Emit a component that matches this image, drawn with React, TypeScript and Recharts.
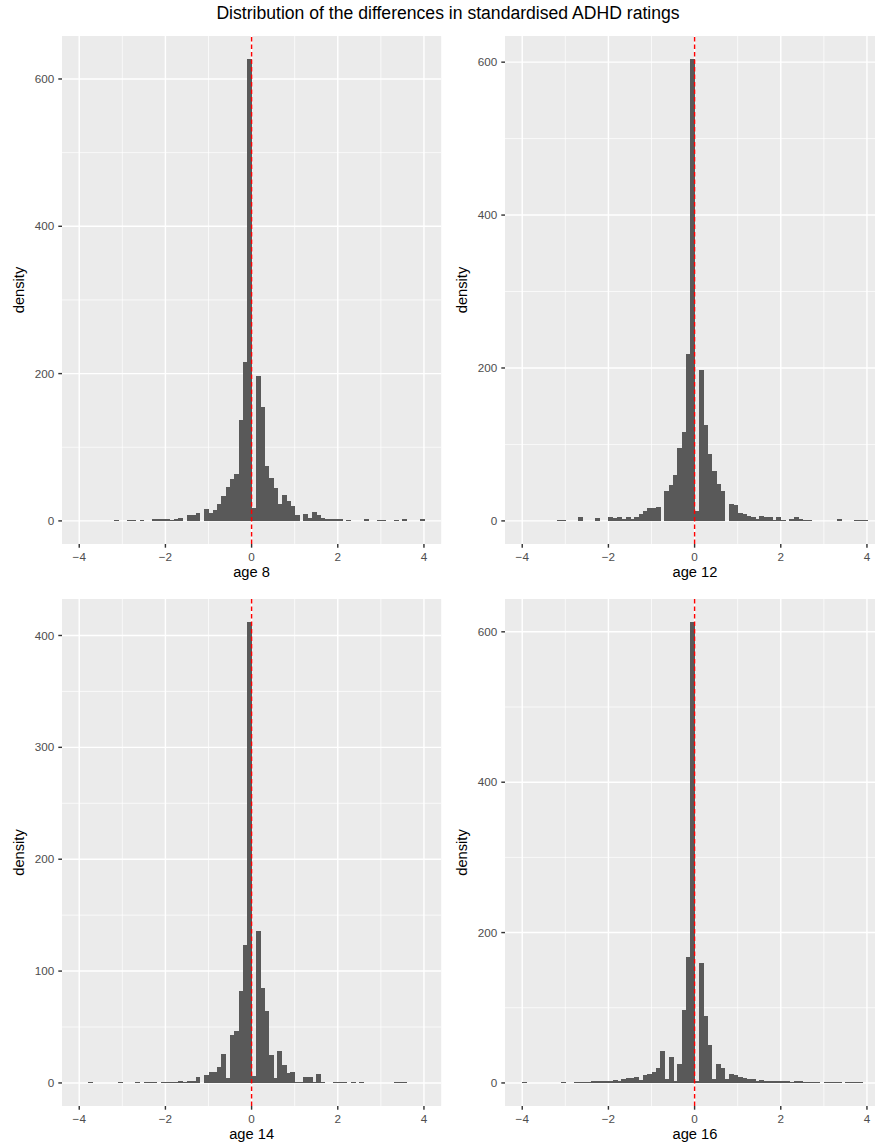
import React from "react";
import { BarChart, Bar, XAxis, YAxis, CartesianGrid, ReferenceLine } from "recharts";

// histogram bins: width 0.1 starting at -4.0 (80 bins, -4.0 .. 4.0)
const binStart = -4;
const binWidth = 0.1;

const age8 = [
  0, 0, 0, 0, 0, 0, 0, 0, 1, 0,
  0, 1.5, 1.5, 0, 1, 0, 0, 2.5, 2.5, 2.5,
  2.5, 1.4, 2.7, 4, 0, 8, 8, 11, 0, 16,
  11, 15, 23, 34, 46, 57, 63.5, 136.5, 216, 627,
  17, 197, 155, 74, 58.5, 44.6, 23, 35.6, 26.6, 20,
  8.6, 0, 10, 4, 12, 8.6, 4, 2.7, 2.7, 2.7,
  3, 0, 1.4, 0, 0, 0, 2, 0, 0, 1,
  1, 0, 0, 1, 0, 2, 0, 0, 0, 2,
];

const age12 = [
  0, 0, 0, 0, 0, 0, 0, 0, 1, 1,
  0, 0, 0, 5, 0, 0, 0, 3.5, 0, 0,
  4.8, 3.9, 5.2, 3, 4.8, 2.5, 5, 8.7, 13, 16.6,
  16.6, 18, 0.5, 38.8, 46.6, 60, 96, 116, 218, 604,
  13, 198, 125, 87, 65, 48.8, 38.8, 0, 21.8, 20.5,
  10, 8.5, 6.5, 5, 2, 6, 4.6, 5, 1.5, 5,
  1.2, 0, 3, 5, 2, 1, 0.8, 0, 0, 0,
  0, 0, 0, 3, 0, 0, 0, 1, 1, 1,
];

const age14 = [
  0, 0, 1, 0, 0, 0, 0, 0, 0, 1,
  0, 0, 0, 1.2, 0, 1, 0.6, 0.6, 0, 1,
  1.2, 1, 1, 1.5, 1, 1.5, 1.5, 5, 0, 6.8,
  9.5, 9.5, 14, 25.5, 4.3, 42.6, 46, 82, 123, 412,
  6, 136, 84.5, 64, 24.7, 4.3, 29, 15.8, 9, 10,
  1.2, 0.6, 5, 5.7, 0.6, 7.7, 1, 0, 0, 1,
  1, 1, 0, 1, 0, 1, 0, 0, 0, 0,
  0, 0, 0, 1, 1, 1, 0, 0, 0, 0,
];

const age16 = [
  1, 0, 0, 0, 0, 0, 0, 0, 0, 1,
  0, 0, 1, 1, 1, 1.5, 2, 2, 2, 3,
  3, 4, 3, 5, 6, 6, 8, 4, 10, 12,
  15, 20, 43, 5, 35, 3, 25, 97, 167, 613,
  3, 160, 89, 50, 5, 25, 20, 5, 12, 10,
  8, 6, 5, 5, 3, 4, 3, 2, 2, 3,
  2, 2, 1, 2, 2, 1, 1, 1, 1, 0,
  1, 1, 1, 1, 0, 1, 1, 1, 1, 0,
];

const xTicks = [-4, -2, 0, 2, 4];
const xMinor = [-3, -1, 1, 3];
const yTicks600 = [0, 200, 400, 600];
const yMinor600 = [100, 300, 500];
const yTicks400 = [0, 100, 200, 300, 400];
const yMinor400 = [50, 150, 250, 350];

const FONT = '"Liberation Sans", Arial, Helvetica, sans-serif';
const PANEL_W = 379.2;
const AXIS_W = 62;
const TOP = 36;
const X_DOMAIN: [number, number] = [-4.4, 4.4];
const BAR_PX = (PANEL_W * binWidth) / (X_DOMAIN[1] - X_DOMAIN[0]) - 0.01;

const panels = [
  { label: "age 8", values: age8, yTicks: yTicks600, yMinor: yMinor600, left: 0, top: 0, h: 508 },
  { label: "age 12", values: age12, yTicks: yTicks600, yMinor: yMinor600, left: 443.4, top: 0, h: 508 },
  { label: "age 14", values: age14, yTicks: yTicks400, yMinor: yMinor400, left: 0, top: 563, h: 507 },
  { label: "age 16", values: age16, yTicks: yTicks600, yMinor: yMinor600, left: 443.4, top: 563, h: 507 },
];

const fmt = (v: number) => (v < 0 ? `\u2212${Math.abs(v)}` : `${v}`);
const tickStyle = { fill: "#4D4D4D", fontSize: 11.7, fontFamily: FONT };
const tickLine = { stroke: "#333333", strokeWidth: 1.42 };

// plain rect, widened a hair so neighbouring bins don't show antialias seams
const HistBar = (props: any) => {
  const { x, y, width, height } = props;
  if (!height || height <= 0) return null;
  return (
    <rect
      x={x}
      y={y}
      width={width + 0.6}
      height={height}
      fill="#595959"
      shapeRendering="crispEdges"
    />
  );
};

function Panel({ p }: { p: (typeof panels)[number] }) {
  const data = p.values.map((d, i) => ({ x: binStart + binWidth * (i + 0.5), d }));
  const peak = Math.max(...p.values);
  return (
    <div style={{ position: "absolute", left: p.left, top: p.top }}>
      <BarChart
        width={AXIS_W + PANEL_W + 6}
        height={TOP + p.h + 50}
        data={data}
        margin={{ top: TOP, right: 6, bottom: 0, left: 0 }}
        barCategoryGap={0}
        barGap={0}
      >
        <CartesianGrid
          fill="#EBEBEB"
          stroke="#FFFFFF"
          strokeWidth={0.71}
          horizontalValues={p.yMinor}
          verticalValues={xMinor}
        />
        <CartesianGrid
          stroke="#FFFFFF"
          strokeWidth={1.42}
          horizontalValues={p.yTicks}
          verticalValues={xTicks}
        />
        <XAxis
          type="number"
          dataKey="x"
          domain={X_DOMAIN}
          ticks={xTicks}
          interval={0}
          allowDataOverflow
          axisLine={false}
          tickLine={tickLine}
          tickSize={3.7}
          tickMargin={5.3}
          tick={tickStyle}
          tickFormatter={fmt}
          height={50}
        />
        <YAxis
          type="number"
          domain={[-0.05 * peak, 1.05 * peak]}
          ticks={p.yTicks}
          interval={0}
          allowDataOverflow
          axisLine={false}
          tickLine={tickLine}
          tickSize={3.7}
          tickMargin={4}
          tick={tickStyle}
          width={AXIS_W}
        />
        <Bar
          dataKey="d"
          fill="#595959"
          barSize={BAR_PX}
          shape={HistBar}
          isAnimationActive={false}
        />
        <ReferenceLine x={0} stroke="#FF0000" strokeWidth={1.42} strokeDasharray="4.5 3" />
      </BarChart>
    </div>
  );
}

export default function App() {
  return (
    <div
      style={{
        position: "fixed",
        left: 0,
        top: 0,
        width: 875,
        height: 1148,
        overflow: "hidden",
        background: "#FFFFFF",
        fontFamily: FONT,
      }}
    >
      {panels.map((p) => (
        <Panel key={p.label} p={p} />
      ))}
      <svg
        width={875}
        height={1148}
        style={{ position: "absolute", left: 0, top: 0, pointerEvents: "none" }}
        fontFamily={FONT}
      >
        <text x={448} y={19} textAnchor="middle" fontSize={17.6} fill="#000000">
          Distribution of the differences in standardised ADHD ratings
        </text>
        {panels.map((p) => (
          <g key={p.label}>
            <text
              transform={`translate(${p.left + 24}, ${p.top + TOP + p.h / 2}) rotate(-90)`}
              textAnchor="middle"
              fontSize={14.7}
              fill="#000000"
            >
              density
            </text>
            <text
              x={p.left + AXIS_W + PANEL_W / 2}
              y={p.top + TOP + p.h + 33}
              textAnchor="middle"
              fontSize={14.7}
              fill="#000000"
            >
              {p.label}
            </text>
          </g>
        ))}
      </svg>
    </div>
  );
}
